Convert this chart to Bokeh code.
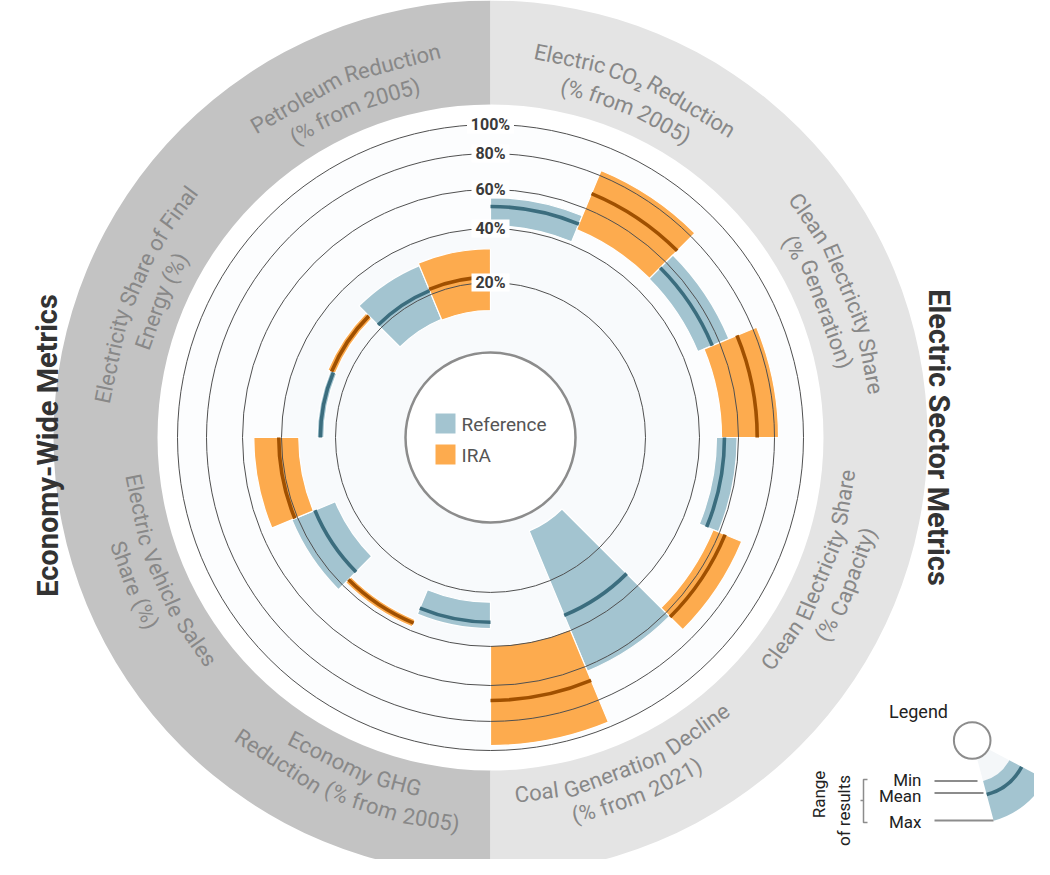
import numpy as np
from bokeh.plotting import figure
from bokeh.core.properties import value
from bokeh.embed import file_html
from bokeh.resources import INLINE

# ---------------- data ----------------
metric_line1 = ["Electric CO\u2082 Reduction", "Clean Electricity Share", "Clean Electricity Share",
                "Coal Generation Decline", "Economy GHG", "Electric Vehicle Sales",
                "Electricity Share of Final", "Petroleum Reduction"]
metric_line2 = ["(% from 2005)", "(% Generation)", "(% Capacity)", "(% from 2021)",
                "Reduction (% from 2005)", "Share (%)", "Energy (%)", "(% from 2005)"]
sector_titles = ["Electric Sector Metrics", "Economy-Wide Metrics"]
series = ["Reference", "IRA"]

ref_min = [41.5, 47.9, 48.7, 4.6, 23.6, 24.8, 24.3, 12.3]
ref_mean = [51.3, 55.9, 52.8, 33.9, 31.0, 33.0, 25.6, 21.5]
ref_max = [55.9, 65.6, 59.3, 62.8, 33.4, 43.1, 26.8, 31.5]
ira_min = [48.2, 51.3, 56.4, 39.6, 35.6, 33.6, 24.8, 12.0]
ira_mean = [68.9, 70.4, 63.3, 68.3, 37.0, 41.4, 26.3, 22.0]
ira_max = [83.4, 82.8, 73.3, 96.6, 38.5, 54.2, 27.8, 32.5]

tick_values = [20, 40, 60, 80, 100]
tick_labels = ["20%", "40%", "60%", "80%", "100%"]

# ---------------- layout / scale ----------------
W, H = 1034, 859
PH = 875
def Y(py):
    return PH - py

CX, CY = 490.0, Y(437)
SCALE_V = [0, 20, 40, 60, 80, 100]
SCALE_R = [85, 155, 209, 248, 284, 313]
def rad(v):
    return np.interp(np.asarray(v, dtype=float), SCALE_V, SCALE_R)

def bang(theta_deg):
    # clockwise-from-top degrees -> bokeh radians (ccw from +x)
    return np.deg2rad(90.0 - np.asarray(theta_deg, dtype=float))

BLUE, BLUE_D = "#a3c4d0", "#3b6d7e"
ORANGE, ORANGE_D = "#fdab4e", "#a05000"
FONT = value("Roboto")

# approximate Roboto Regular advance widths (em) for laying words along arcs
ADV = {' ': .27, '(': .334, ')': .340, '%': .716, '\u2082': .36,
       '0': .562, '1': .562, '2': .562, '5': .562,
       'a': .531, 'b': .548, 'c': .511, 'd': .551, 'e': .517, 'f': .339, 'g': .548, 'h': .538,
       'i': .237, 'l': .237, 'm': .855, 'n': .539, 'o': .557, 'p': .548, 'r': .331, 's': .503,
       't': .319, 'u': .538, 'v': .473, 'y': .462, 'C': .636, 'D': .640, 'E': .554, 'F': .539,
       'G': .665, 'H': .697, 'P': .618, 'R': .603, 'S': .594, 'V': .636}
def text_w(s, size):
    return sum(ADV.get(ch, .55) for ch in s) * size * 1.01

p = figure(width=W, height=H, x_range=(0, W), y_range=(PH - H, PH),
           output_backend="svg", toolbar_location=None, min_border=0)
p.axis.visible = False
p.grid.visible = False
p.outline_line_color = None
p.background_fill_color = "white"
p.border_fill_color = "white"

# outer ring halves
p.annular_wedge(x=[CX, CX], y=[CY, CY], inner_radius=333, outer_radius=437,
                start_angle=[np.pi / 2, -np.pi / 2], end_angle=[3 * np.pi / 2, np.pi / 2],
                fill_color=["#c3c3c3", "#e4e4e4"], line_color=None)

# faint inner tint
p.circle(x=[CX], y=[CY], radius=313, fill_color="#fcfdfe", line_color=None)
p.circle(x=[CX], y=[CY], radius=209, fill_color="#f8fafc", line_color=None)

# bars
n = len(ref_min)
xs, ys, r0, r1, a0, a1, fc, rm, lc = [], [], [], [], [], [], [], [], []
for i in range(n):
    for k, (mn, me, mx, col, dcol) in enumerate([
            (ref_min[i], ref_mean[i], ref_max[i], BLUE, BLUE_D),
            (ira_min[i], ira_mean[i], ira_max[i], ORANGE, ORANGE_D)]):
        t1 = 45 * i + 22.5 * k
        t2 = t1 + 22.5
        xs.append(CX); ys.append(CY)
        r0.append(float(rad(mn))); r1.append(float(rad(mx))); rm.append(float(rad(me)))
        a0.append(float(bang(t2))); a1.append(float(bang(t1)))
        fc.append(col); lc.append(dcol)

p.annular_wedge(x=xs, y=ys, inner_radius=r0, outer_radius=r1, start_angle=a0, end_angle=a1,
                fill_color=fc, line_color="white", line_width=1.2)
p.arc(x=xs, y=ys, radius=rm, start_angle=a0, end_angle=a1, line_color=lc, line_width=3.6)

# grid circles
p.circle(x=[CX] * len(tick_values), y=[CY] * len(tick_values), radius=rad(tick_values).tolist(),
         fill_color=None, line_color="#505050", line_width=1)

# inner circle
p.circle(x=[CX], y=[CY], radius=85, fill_color="white", line_color="#8c8c8c", line_width=2.5)

# tick labels with white boxes
ty = (CY + rad(tick_values)).tolist()
p.rect(x=[CX] * len(ty), y=ty, width=[38 if len(t) < 4 else 47 for t in tick_labels], height=18,
       fill_color="white", line_color=None)
p.text(x=[CX] * len(ty), y=ty, text=tick_labels, text_align="center", text_baseline="middle",
       text_font=FONT, text_font_style="bold", text_font_size="16px", text_color="#3a3a3a")

# center legend
p.rect(x=[445, 445], y=[Y(423), Y(454)], width=20, height=20, fill_color=[BLUE, ORANGE], line_color=None)
p.text(x=[461, 461], y=[Y(424), Y(455)], text=series, text_align="left", text_baseline="middle",
       text_font=FONT, text_font_size="19px", text_color="#555555")

# ring labels, word by word along the arc
FS = 22
R_OUT, R_IN = 387, 358
lx, ly, lt, la = [], [], [], []
for i in range(n):
    th = 45 * i + 22.5
    top = th < 90 or th > 270
    if top:
        pairs = [(metric_line1[i], R_OUT), (metric_line2[i], R_IN)]
    else:
        pairs = [(metric_line1[i], R_IN), (metric_line2[i], R_OUT)]
    for line, R in pairs:
        words = line.split(" ")
        total = text_w(line, FS)
        pos = -total / 2
        for w_ in words:
            ww = text_w(w_, FS)
            s = pos + ww / 2
            pos += ww + text_w(" ", FS)
            dth = np.rad2deg(s / R)
            tw = th + dth if top else th - dth
            rot = -tw if top else 180 - tw
            lx.append(CX + R * np.sin(np.deg2rad(tw)))
            ly.append(CY + R * np.cos(np.deg2rad(tw)))
            lt.append(w_)
            la.append(np.deg2rad(rot))
p.text(x=lx, y=ly, text=lt, angle=la, text_align="center", text_baseline="middle",
       text_font=FONT, text_font_size=f"{FS}px", text_color="#888888")

# sector titles
p.text(x=[938, 47], y=[Y(437), Y(445)], text=sector_titles, angle=[-np.pi / 2, np.pi / 2],
       text_align="center", text_baseline="middle", text_font=FONT, text_font_style="bold",
       text_font_size="29px", text_color="#333333")

# bottom-right legend
LX, LY = 971.7, Y(740)
p.annular_wedge(x=[LX], y=[LY], inner_radius=18, outer_radius=42,
                start_angle=[float(bang(165))], end_angle=[float(bang(118))],
                fill_color="#f4f7f9", line_color=None)
p.annular_wedge(x=[LX], y=[LY], inner_radius=42, outer_radius=83,
                start_angle=[float(bang(165))], end_angle=[float(bang(118))],
                fill_color=BLUE, line_color=None)
p.arc(x=[LX], y=[LY], radius=56, start_angle=[float(bang(165))], end_angle=[float(bang(118))],
      line_color=BLUE_D, line_width=3.6)
p.circle(x=[LX], y=[LY], radius=18.3, fill_color="white", line_color="#8c8c8c", line_width=2)
p.segment(x0=[934, 934, 934], y0=[Y(780.5), Y(792.5), Y(820)], x1=[977, 983, 993],
          y1=[Y(780.5), Y(792.5), Y(820)], line_color="#8c8c8c", line_width=2)
p.text(x=[921, 921, 921], y=[Y(779), Y(795), Y(821.5)], text=["Min", "Mean", "Max"],
       text_align="right", text_baseline="middle", text_font=FONT, text_font_size="17px",
       text_color="#222222")
p.text(x=[918], y=[Y(711)], text=["Legend"], text_align="center", text_baseline="middle",
       text_font=FONT, text_font_size="18px", text_color="#222222")
p.multi_line(xs=[[867, 863, 863, 867], [860, 863]], ys=[[Y(779), Y(779), Y(822), Y(822)], [Y(800), Y(800)]],
             line_color="#8c8c8c", line_width=1.5)
p.text(x=[818, 843], y=[Y(794), Y(810)], text=["Range", "of results"], angle=[np.pi / 2, np.pi / 2],
       text_align="center", text_baseline="middle", text_font=FONT, text_font_size="17px",
       text_color="#222222")

open("out.html", "w").write(file_html(p, INLINE))
